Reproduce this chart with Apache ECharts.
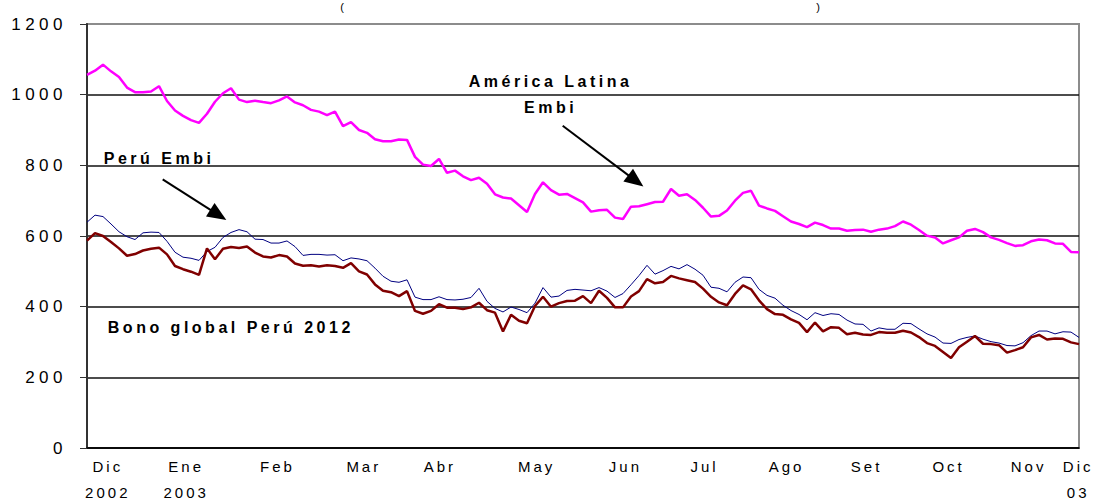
<!DOCTYPE html>
<html>
<head>
<meta charset="utf-8">
<script src="https://cdn.jsdelivr.net/npm/echarts@6/dist/echarts.min.js"></script>
<style>
html,body{margin:0;padding:0;background:#fff;}
#c{width:1094px;height:503px;}
#c text[style*="17px"]{letter-spacing:4.5px;}
#c text[style*="15px"]{letter-spacing:3px;}
#c text[style*="bold"]{letter-spacing:3.5px;}
</style>
</head>
<body>
<div id="c"></div>
<script>
// ---- data (one point every trading-day step) ----
const xTickPos = [2.6, 12.4, 23.8, 34.6, 44.1, 56.2, 67.3, 77.2, 87.45, 97.45, 107.7, 117.7, 123.9];
const xTickLabels = ['Dic\n2002', 'Ene\n2003', 'Feb', 'Mar', 'Abr', 'May', 'Jun', 'Jul', 'Ago', 'Set', 'Oct', 'Nov', 'Dic\n03'];

const americaLatinaEmbi = [
  1056,1068,1085,1066,1050,1020,1007,1007,1009,1024,
  982,955,940,928,920,946,980,1004,1018,986,
  979,983,979,976,984,995,978,970,957,952,
  942,952,911,922,900,892,874,868,868,873,
  872,824,802,798,818,779,785,769,758,765,
  748,718,709,706,687,668,719,752,730,717,
  719,707,695,669,673,674,652,648,683,684,
  690,696,697,733,714,718,702,680,655,657,
  672,700,722,728,686,678,671,656,641,634,
  625,638,631,621,621,615,617,618,612,618,
  621,628,641,632,617,601,596,579,588,596,
  615,620,611,596,589,580,572,574,585,590,
  588,579,578,555,554
];
const peruEmbi = [
  639,659,655,634,612,598,590,609,611,610,
  585,554,540,537,531,556,568,596,610,618,
  612,591,590,580,580,586,570,545,548,548,
  546,547,530,538,535,530,509,486,472,469,
  476,427,420,420,428,420,419,421,426,452,
  415,395,385,399,392,383,410,454,427,430,
  446,449,447,445,454,444,426,437,462,488,
  517,492,502,514,507,519,506,489,455,452,
  442,469,484,482,449,432,424,404,389,378,
  363,383,375,380,378,362,351,350,331,340,
  336,336,353,352,337,323,314,297,296,307,
  313,317,308,301,297,290,289,298,318,331,
  331,323,329,328,313
];
const bonoGlobalPeru2012 = [
  587,608,600,583,565,544,549,559,564,567,
  548,515,506,499,490,565,534,564,569,566,
  570,553,542,539,546,542,522,516,517,514,
  517,515,510,523,500,491,463,445,441,430,
  444,388,380,388,407,397,397,393,398,411,
  390,383,330,377,360,353,402,428,400,410,
  416,417,430,410,445,425,398,398,429,444,
  478,466,470,487,480,475,470,451,428,412,
  404,436,460,449,418,393,379,377,364,354,
  328,355,330,342,340,322,326,321,320,328,
  326,326,332,327,314,297,289,272,255,285,
  301,317,295,294,291,270,277,285,313,320,
  307,310,309,299,294
];

// annotation anchors in data space (x = day index, y = value)
const annotations = [
  {text: 'América Latina', x: 57.95, y: 1036, align: 'center'},
  {text: 'Embi', x: 57.95, y: 965, align: 'center'},
  {text: 'Perú Embi', x: 2.1, y: 818, align: 'left'},
  {text: 'Bono global Perú 2012', x: 2.6, y: 342, align: 'left'}
];
const arrowPeru = [[9.46, 760], [16.41, 660]];
const arrowAmerica = [[59.46, 912], [68.6, 756]];

// ---- chart ----
const chart = echarts.init(document.getElementById('c'), null, {renderer: 'svg'});
const toPairs = arr => arr.map((v, i) => [i, v]);
const labelFor = v => {
  let best = 0, d = Infinity;
  xTickPos.forEach((p, i) => { if (Math.abs(p - v) < d) { d = Math.abs(p - v); best = i; } });
  return xTickLabels[best];
};
const arrowMark = pts => ({
  silent: true,
  symbol: ['none', 'triangle'],
  symbolSize: [16, 19],
  lineStyle: {color: '#000', width: 2, type: 'solid'},
  itemStyle: {color: '#000'},
  label: {show: false},
  emphasis: {disabled: true},
  data: [[{coord: pts[0]}, {coord: pts[1]}]]
});

chart.setOption({
  animation: false,
  backgroundColor: '#fff',
  grid: {left: 87, right: 15, top: 24, bottom: 55, outerBoundsMode: 'none', containLabel: false,
         show: true, borderColor: '#8c8c8c', borderWidth: 2, backgroundColor: 'transparent'},
  xAxis: {
    type: 'value', min: 0, max: 124,
    splitLine: {show: false},
    axisTick: {show: false},
    axisLine: {show: true, lineStyle: {color: '#000', width: 1.5}},
    axisLabel: {
      customValues: xTickPos,
      formatter: v => labelFor(v),
      fontFamily: 'Liberation Sans', fontSize: 15, color: '#000',
      lineHeight: 26, margin: 5, hideOverlap: false
    }
  },
  yAxis: {
    type: 'value', min: 0, max: 1200, interval: 200,
    axisLine: {show: true, lineStyle: {color: '#333', width: 2}},
    axisTick: {show: true, length: 7, lineStyle: {color: '#333', width: 1}},
    axisLabel: {fontFamily: 'Liberation Sans', fontSize: 17, color: '#000', margin: 20, formatter: v => String(v)},
    splitLine: {show: true, lineStyle: {color: ['#111', '#111', '#111', '#111', '#111', '#111', '#8c8c8c'], width: 1.5}}
  },
  series: [
    {
      type: 'line', name: 'América Latina Embi', data: toPairs(americaLatinaEmbi),
      symbol: 'none', lineStyle: {color: '#ff00ff', width: 2.5}, itemStyle: {color: '#ff00ff'},
      markLine: arrowMark(arrowAmerica), z: 2
    },
    {
      type: 'line', name: 'Perú Embi', data: toPairs(peruEmbi),
      symbol: 'none', lineStyle: {color: '#000080', width: 1}, itemStyle: {color: '#000080'},
      markLine: arrowMark(arrowPeru), z: 3
    },
    {
      type: 'line', name: 'Bono global Perú 2012', data: toPairs(bonoGlobalPeru2012),
      symbol: 'none', lineStyle: {color: '#800000', width: 2.5}, itemStyle: {color: '#800000'}, z: 4
    }
  ]
});

const graphics = annotations.map(a => {
  const p = chart.convertToPixel({gridIndex: 0}, [a.x, a.y]);
  return {
    type: 'text', x: p[0], y: p[1], z: 10, silent: true,
    style: {text: a.text, font: 'bold 16px "Liberation Sans"', fill: '#000',
            align: a.align, textAlign: a.align, verticalAlign: 'middle', textVerticalAlign: 'middle'}
  };
});
// fragments of the cropped title at the top edge (kept small so they stay inside the page)
[['(', 342], [')', 818]].forEach(([t, x]) => graphics.push({
  type: 'text', x: x, y: 1, silent: true,
  style: {text: t, font: '11px "Liberation Sans"', fill: '#000', align: 'center', textAlign: 'center', verticalAlign: 'top', textVerticalAlign: 'top'}
}));
chart.setOption({graphic: graphics});
</script>
</body>
</html>
